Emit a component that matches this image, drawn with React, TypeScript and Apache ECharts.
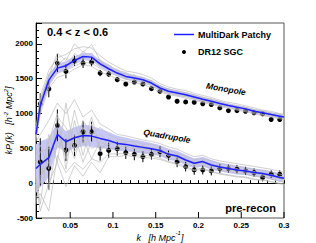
import React, { useEffect, useRef } from 'react';
import * as echarts from 'echarts';

// k values of the mock mean / mock realisations (edges included)
const kModel = [0.01, 0.015, 0.025, 0.035, 0.045, 0.055, 0.065, 0.075, 0.085, 0.095, 0.105, 0.115, 0.125, 0.135, 0.145, 0.155, 0.165, 0.175, 0.185, 0.195, 0.205, 0.215, 0.225, 0.235, 0.245, 0.255, 0.265, 0.275, 0.285, 0.295, 0.3];
// k values of the DR12 SGC measurements
const kData = [0.015, 0.025, 0.035, 0.045, 0.055, 0.065, 0.075, 0.085, 0.095, 0.105, 0.115, 0.125, 0.135, 0.145, 0.155, 0.165, 0.175, 0.185, 0.195, 0.205, 0.215, 0.225, 0.235, 0.245, 0.255, 0.265, 0.275, 0.285, 0.295];

const monoMean = [700, 1120, 1480, 1652, 1686, 1762, 1819, 1810, 1714, 1643, 1581, 1533, 1510, 1486, 1438, 1367, 1319, 1295, 1271, 1238, 1205, 1176, 1143, 1114, 1090, 1067, 1033, 1010, 986, 962, 950];
const monoBand = [90, 90, 80, 70, 65, 60, 55, 55, 50, 50, 45, 45, 45, 40, 40, 40, 40, 35, 35, 35, 35, 35, 35, 30, 30, 30, 30, 30, 30, 30, 30];
const quadMean = [210, 271, 367, 700, 595, 652, 686, 676, 643, 614, 571, 557, 533, 514, 493, 470, 414, 390, 333, 286, 310, 262, 233, 210, 190, 176, 152, 138, 114, 81, 70];
const quadBand = [350, 330, 280, 180, 150, 150, 155, 150, 140, 120, 110, 100, 95, 90, 85, 80, 80, 75, 75, 70, 70, 70, 65, 65, 65, 60, 60, 60, 60, 60, 60];

// individual mock realisations (grey)
const monoMock1 = [760, 1250, 1620, 1800, 1850, 1930, 1960, 1940, 1830, 1740, 1670, 1610, 1590, 1560, 1510, 1430, 1380, 1350, 1330, 1290, 1260, 1230, 1190, 1160, 1140, 1110, 1080, 1050, 1030, 1000, 990];
const monoMock2 = [640, 1000, 1360, 1520, 1560, 1640, 1700, 1680, 1600, 1550, 1500, 1460, 1440, 1420, 1370, 1310, 1270, 1250, 1220, 1190, 1160, 1130, 1100, 1075, 1050, 1025, 995, 970, 950, 925, 915];
const monoMock3 = [720, 1180, 1560, 1700, 1800, 1700, 1900, 1760, 1780, 1620, 1640, 1500, 1560, 1460, 1480, 1340, 1360, 1270, 1300, 1220, 1240, 1160, 1170, 1100, 1110, 1050, 1055, 990, 1000, 950, 945];
const monoMock4 = [680, 1080, 1420, 1760, 1640, 1860, 1780, 1870, 1680, 1700, 1560, 1580, 1480, 1520, 1400, 1400, 1290, 1320, 1250, 1260, 1190, 1200, 1130, 1130, 1075, 1085, 1020, 1025, 975, 975, 960];
const monoMock5 = [780, 1200, 1540, 1870, 1760, 2000, 1880, 1990, 1760, 1700, 1620, 1590, 1530, 1520, 1470, 1400, 1350, 1330, 1300, 1270, 1230, 1210, 1170, 1140, 1115, 1090, 1060, 1040, 1010, 990, 980];
const monoMock6 = [620, 1050, 1400, 1580, 1620, 1680, 1740, 1720, 1650, 1590, 1540, 1490, 1470, 1440, 1400, 1330, 1290, 1260, 1240, 1205, 1175, 1150, 1115, 1090, 1060, 1040, 1010, 985, 960, 940, 930];

const quadMock1 = [600, 700, 900, 1150, 1000, 1200, 950, 1050, 850, 780, 700, 680, 650, 620, 600, 570, 520, 490, 430, 380, 400, 350, 320, 300, 280, 260, 240, 220, 200, 170, 160];
const quadMock2 = [-200, -150, -400, 400, 150, 300, 200, 350, 300, 420, 420, 430, 410, 400, 390, 360, 310, 290, 240, 190, 220, 170, 140, 120, 100, 90, 60, 50, 25, 0, -10];
const quadMock3 = [400, 550, 200, 950, 800, 500, 900, 700, 800, 700, 640, 600, 600, 560, 560, 520, 470, 430, 390, 340, 350, 320, 280, 260, 240, 220, 200, 180, 160, 130, 120];
const quadMock4 = [-100, 0, 700, 300, 1150, 450, 650, 350, 600, 520, 480, 500, 460, 450, 420, 410, 350, 340, 280, 240, 260, 210, 190, 160, 140, 130, 100, 90, 60, 30, 20];
const quadMock5 = [100, -300, 600, 1000, 200, 900, 400, 850, 450, 650, 540, 590, 500, 540, 470, 480, 390, 420, 310, 320, 280, 290, 200, 240, 160, 200, 130, 160, 90, 100, 90];
const quadMock6 = [500, 300, -100, 600, 450, 1050, 550, 950, 500, 560, 620, 520, 570, 480, 520, 440, 440, 360, 360, 250, 340, 230, 260, 180, 210, 150, 170, 110, 130, 60, 50];
const quadMock7 = [-300, 100, 300, 800, 350, 700, 300, 600, 700, 600, 600, 560, 550, 530, 510, 490, 430, 400, 350, 300, 320, 270, 240, 220, 200, 185, 160, 145, 120, 90, 80];
const quadMock8 = [300, 450, 500, 500, 700, 350, 800, 500, 550, 480, 520, 530, 490, 500, 460, 450, 400, 370, 320, 270, 290, 250, 220, 200, 180, 165, 140, 125, 100, 70, 60];
const quadMock9 = [0, -400, 0, 300, -50, 250, 100, 300, 150, 380, 380, 400, 380, 370, 360, 340, 300, 270, 220, 180, 200, 160, 130, 110, 90, 80, 50, 40, 20, -10, -20];

const monoData = [1139, 1353, 1724, 1605, 1757, 1724, 1738, 1581, 1567, 1486, 1424, 1452, 1424, 1357, 1319, 1238, 1176, 1167, 1162, 1140, 1129, 1081, 1043, 1043, 1033, 1010, 995, 914, 914];
const monoErr = [150, 120, 130, 100, 75, 70, 60, 45, 40, 35, 30, 30, 25, 25, 25, 20, 20, 20, 20, 20, 20, 20, 20, 20, 20, 20, 20, 20, 20];
const quadData = [305, 214, 829, 476, 543, 738, 738, 424, 471, 495, 438, 414, 381, 414, 452, 400, 305, 238, 190, 190, 176, 210, 210, 200, 176, 152, 81, 129, 129];
const quadErr = [340, 310, 230, 160, 155, 155, 145, 100, 110, 100, 90, 85, 80, 75, 80, 75, 75, 70, 70, 65, 65, 65, 60, 60, 60, 60, 55, 55, 55];

const legendNames = ['MultiDark Patchy', 'DR12 SGC'];
const xMajorTicks = [0.05, 0.1, 0.15, 0.2, 0.25, 0.3];
const X_MIN = 0.01;
const X_MAX = 0.3;
const Y_MIN = -500;
const Y_MAX = 2300;

const FONT = '"Liberation Sans", Arial, Helvetica, sans-serif';
const BLUE = '#1f1fff';

const monoMocks = [monoMock1, monoMock2, monoMock3, monoMock4, monoMock5, monoMock6];
const quadMocks = [quadMock1, quadMock2, quadMock3, quadMock4, quadMock5, quadMock6, quadMock7, quadMock8, quadMock9];

function pairs(ks: number[], vs: number[]) {
  return ks.map((k, i) => [k, vs[i]]);
}

function bandSeries(mean: number[], band: number[]) {
  return {
    type: 'custom',
    silent: true,
    clip: true,
    data: [[kModel[0], mean[0]]],
    renderItem: (_p: any, api: any) => {
      const pts: number[][] = [];
      for (let i = 0; i < kModel.length; i++) pts.push(api.coord([kModel[i], mean[i] + band[i]]));
      for (let i = kModel.length - 1; i >= 0; i--) pts.push(api.coord([kModel[i], mean[i] - band[i]]));
      return { type: 'polygon', shape: { points: pts }, style: { fill: '#c8c8f8', stroke: 'none' } };
    },
  };
}

export default function App() {
  const ref = useRef<HTMLDivElement>(null);
  useEffect(() => {
    const chart = echarts.init(ref.current!, null, { renderer: 'svg' });
    const series: any[] = [];
    [...monoMocks, ...quadMocks].forEach((m, idx) => {
      series.push({
        type: 'line',
        name: 'mock' + idx,
        data: pairs(kModel, m),
        symbol: 'none',
        silent: true,
        lineStyle: { color: '#bcbcbc', width: 0.7 },
      });
    });
    series.push(bandSeries(monoMean, monoBand));
    series.push(bandSeries(quadMean, quadBand));
    [monoMean, quadMean].forEach((m) => {
      series.push({
        type: 'line',
        name: legendNames[0],
        data: pairs(kModel, m),
        symbol: 'none',
        silent: true,
        color: BLUE,
        lineStyle: { color: BLUE, width: 1.5 },
      });
    });
    const errData = [
      ...kData.map((k, i) => [k, monoData[i], monoErr[i]]),
      ...kData.map((k, i) => [k, quadData[i], quadErr[i]]),
    ];
    series.push({
      type: 'custom',
      name: 'errors',
      silent: true,
      data: errData,
      encode: { x: 0, y: 1 },
      renderItem: (_p: any, api: any) => {
        const k = api.value(0);
        const v = api.value(1);
        const e = api.value(2);
        const a = api.coord([k, v - e]);
        const b = api.coord([k, v + e]);
        return { type: 'line', shape: { x1: a[0], y1: a[1], x2: b[0], y2: b[1] }, style: { stroke: '#000', lineWidth: 1 } };
      },
    });
    [monoData, quadData].forEach((d) => {
      series.push({
        type: 'scatter',
        name: legendNames[1],
        data: pairs(kData, d),
        symbol: 'circle',
        symbolSize: 5,
        color: '#000',
        itemStyle: { color: '#000', opacity: 1 },
        silent: true,
      });
    });
    // major x ticks (longer), drawn through the x scale
    series.push({
      type: 'custom',
      name: 'xmajor',
      silent: true,
      clip: false,
      data: xMajorTicks.map((k) => [k, Y_MIN]),
      renderItem: (_p: any, api: any) => {
        const p = api.coord([api.value(0), api.value(1)]);
        return { type: 'line', shape: { x1: p[0], y1: p[1], x2: p[0], y2: p[1] - 6 }, style: { stroke: '#000', lineWidth: 1 } };
      },
    });

    const option: any = {
      animation: false,
      grid: {
        left: 36, right: 32, top: 23, bottom: 25,
        containLabel: false, outerBoundsMode: 'none',
        show: true, borderColor: '#555', borderWidth: 1, backgroundColor: 'transparent',
      },
      xAxis: [
        {
          type: 'value',
          min: X_MIN,
          max: X_MAX,
          interval: 0.01,
          axisLine: { show: true, lineStyle: { color: '#000', width: 1 } },
          axisTick: { show: true, inside: true, length: 3, lineStyle: { color: '#000' } },
          splitLine: { show: false },
          axisLabel: {
            margin: 3,
            fontFamily: FONT,
            fontWeight: 'bold',
            fontSize: 8,
            color: '#000',
            formatter: (v: number) => {
              const r = Math.round(v * 100);
              return r % 5 === 0 ? String(r / 100) : '';
            },
          },
          name: '{i|k}   {i|[h Mpc}{p|-1}{i|]}',
          nameLocation: 'middle',
          nameGap: 12,
          nameMoveOverlap: false,
          nameTextStyle: {
            fontFamily: FONT,
            fontStyle: 'italic',
            fontSize: 9,
            color: '#000',
            rich: {
              i: { fontFamily: FONT, fontStyle: 'italic', fontSize: 9, lineHeight: 12, verticalAlign: 'bottom' },
              p: { fontFamily: FONT, fontStyle: 'italic', fontSize: 6, lineHeight: 12, verticalAlign: 'top' },
            },
          },
        },
      ],
      yAxis: [
        {
          type: 'value',
          min: Y_MIN,
          max: Y_MAX,
          interval: 500,
          axisLine: { show: true, lineStyle: { color: '#000', width: 1 } },
          axisTick: { show: true, inside: true, length: 6, lineStyle: { color: '#000' } },
          splitLine: { show: false },
          axisLabel: {
            margin: 3,
            fontFamily: FONT,
            fontWeight: 'bold',
            fontSize: 8,
            color: '#000',
            formatter: (v: number) => (Math.round(v) % 500 === 0 ? String(Math.round(v)) : ''),
          },
          name: '{i|kP}{s|l}{i|(k)}   {i|[h}{p|-2}{i| Mpc}{p|2}{i|]}',
          nameLocation: 'middle',
          nameGap: 21,
          nameRotate: 90,
          nameMoveOverlap: false,
          nameTextStyle: {
            fontFamily: FONT,
            fontStyle: 'italic',
            fontSize: 9,
            color: '#000',
            rich: {
              i: { fontFamily: FONT, fontStyle: 'italic', fontSize: 9, lineHeight: 12, verticalAlign: 'middle' },
              s: { fontFamily: FONT, fontStyle: 'italic', fontSize: 6, lineHeight: 12, verticalAlign: 'bottom' },
              p: { fontFamily: FONT, fontStyle: 'italic', fontSize: 6, lineHeight: 12, verticalAlign: 'top' },
            },
          },
        },
        {
          type: 'value',
          min: Y_MIN,
          max: Y_MAX,
          interval: 100,
          position: 'left',
          axisLine: { show: false },
          axisTick: { show: true, inside: true, length: 3, lineStyle: { color: '#000' } },
          splitLine: { show: false },
          axisLabel: { show: false },
        },
      ],
      graphic: [
        {
          type: 'line',
          silent: true,
          shape: { x1: 174, y1: 34.5, x2: 194, y2: 34.5 },
          style: { stroke: BLUE, lineWidth: 1.5 },
        },
        {
          type: 'text',
          x: 198,
          y: 34.5,
          silent: true,
          style: { text: legendNames[0], font: `bold 9px ${FONT}`, fill: '#000', align: 'left', verticalAlign: 'middle' },
        },
        {
          type: 'circle',
          silent: true,
          shape: { cx: 184, cy: 52, r: 2 },
          style: { fill: '#000' },
        },
        {
          type: 'text',
          x: 198,
          y: 52,
          silent: true,
          style: { text: legendNames[1], font: `bold 9px ${FONT}`, fill: '#000', align: 'left', verticalAlign: 'middle' },
        },
        {
          type: 'text',
          x: 47,
          y: 32,
          silent: true,
          style: { text: '0.4 < z < 0.6', font: `bold 11px ${FONT}`, fill: '#000', align: 'left', verticalAlign: 'middle' },
        },
        {
          type: 'text',
          x: 276,
          y: 208,
          silent: true,
          style: { text: 'pre-recon', font: `bold 11px ${FONT}`, fill: '#000', align: 'right', verticalAlign: 'middle' },
        },
        {
          type: 'text',
          x: 226,
          y: 89,
          rotation: -0.17,
          silent: true,
          style: { text: 'Monopole', font: `italic bold 8.5px ${FONT}`, fill: '#000', align: 'center', verticalAlign: 'middle' },
        },
        {
          type: 'text',
          x: 167,
          y: 136,
          rotation: -0.17,
          silent: true,
          style: { text: 'Quadrupole', font: `italic bold 8.5px ${FONT}`, fill: '#000', align: 'center', verticalAlign: 'middle' },
        },
      ],
      series,
    };
    chart.setOption(option);
    return () => chart.dispose();
  }, []);
  return <div ref={ref} style={{ position: 'absolute', left: 0, top: 0, width: 316, height: 243 }} />;
}
